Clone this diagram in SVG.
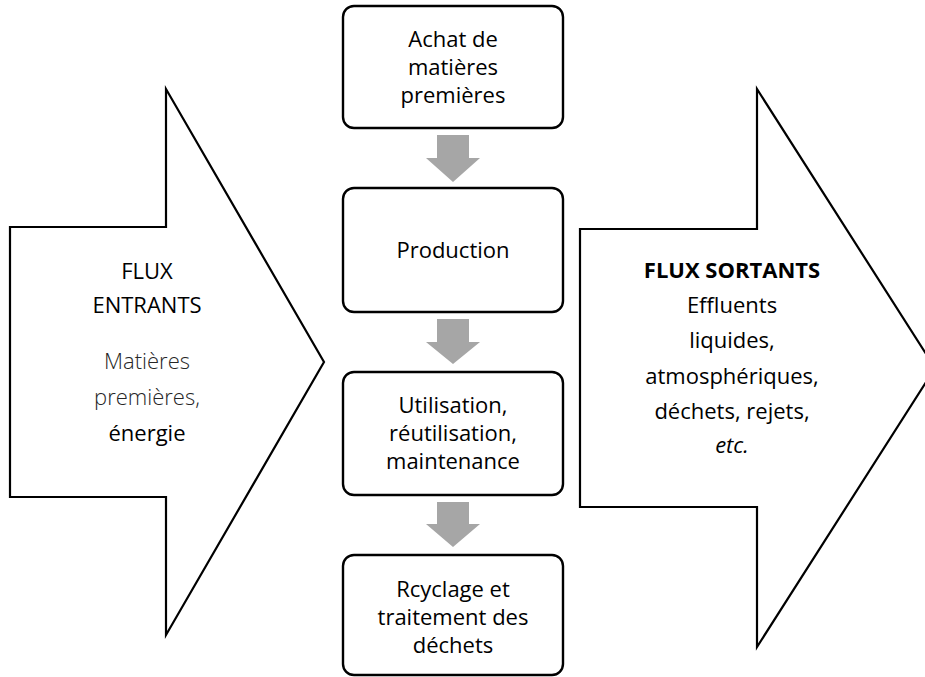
<svg xmlns="http://www.w3.org/2000/svg" width="925" height="677" viewBox="0 0 925 677">
<style>
  .big { fill: #ffffff; stroke: #000000; stroke-width: 2.2; stroke-linejoin: miter; }
  .box { fill: #ffffff; stroke: #000000; stroke-width: 2.4; }
  .step { fill: #a6a6a6; stroke: none; }
  text { font-family: "Open Sans", "Noto Sans", "Liberation Sans", sans-serif; font-size: 22px; fill: #000000; text-anchor: middle; }
  .light { font-weight: 300; fill: #262626; }
  .bold { font-weight: bold; }
  .it { font-style: italic; }
</style>
<rect x="0" y="0" width="925" height="677" fill="#ffffff"/>

<g id="flux-entrants">
  <polygon class="big" points="10,227 166,227 166,89 324,362 166,635 166,497 10,497"/>
  <text x="147" y="279">FLUX</text>
  <text x="147" y="313">ENTRANTS</text>
  <text class="light" x="147" y="369">Matières</text>
  <text class="light" x="147" y="405">premières,</text>
  <text x="147" y="441">énergie</text>
</g>

<g id="flux-sortants">
  <polygon class="big" points="580,229 757,229 757,89 935,368 757,647 757,507 580,507"/>
  <text class="bold" x="732" y="278">FLUX SORTANTS</text>
  <text x="732" y="313">Effluents</text>
  <text x="732" y="348">liquides,</text>
  <text x="732" y="384">atmosphériques,</text>
  <text x="732" y="419">déchets, rejets,</text>
  <text class="it" x="732" y="453">etc.</text>
</g>

<g id="achat">
  <rect class="box" x="343" y="6" width="220" height="122" rx="11"/>
  <text x="453" y="47">Achat de</text>
  <text x="453" y="75">matières</text>
  <text x="453" y="103">premières</text>
</g>

<g id="production">
  <rect class="box" x="343" y="188" width="220" height="124" rx="11"/>
  <text x="453" y="258">Production</text>
</g>

<g id="utilisation">
  <rect class="box" x="343" y="372" width="220" height="123" rx="11"/>
  <text x="453" y="413">Utilisation,</text>
  <text x="453" y="441">réutilisation,</text>
  <text x="453" y="469">maintenance</text>
</g>

<g id="recyclage">
  <rect class="box" x="343" y="555" width="220" height="120" rx="11"/>
  <text x="453" y="597">Rcyclage et</text>
  <text x="453" y="625">traitement des</text>
  <text x="453" y="653">déchets</text>
</g>

<g id="connectors">
  <polygon class="step" points="437,135 469,135 469,158 480,158 453,182 426,158 437,158"/>
  <polygon class="step" points="437,319 469,319 469,342 480,342 453,364 426,342 437,342"/>
  <polygon class="step" points="437,502 469,502 469,524 480,524 453,547 426,524 437,524"/>
</g>
</svg>
